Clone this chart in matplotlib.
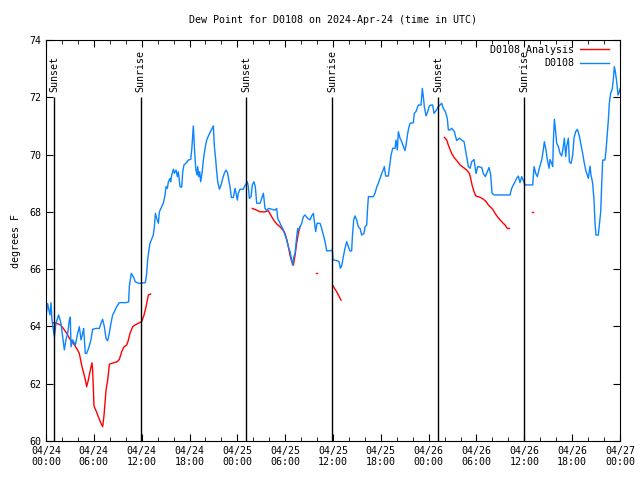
import matplotlib
matplotlib.use('Agg')
import matplotlib.pyplot as plt
from matplotlib.ticker import MultipleLocator

# observed dew point (hours since 04/24 00:00 UTC, degF)
obs_hours = [0.0, 0.2, 0.5, 0.63, 0.75, 1.05, 1.25, 1.59, 1.88, 2.3, 2.5, 2.72, 2.93, 3.05, 3.14, 3.34,
             3.68, 3.97, 4.18, 4.39, 4.6, 4.72, 4.93, 5.1, 5.35, 5.64, 5.85, 6.27, 6.69, 6.9, 7.1, 7.32,
             7.53, 7.73, 7.94, 8.15, 8.36, 8.57, 8.86, 9.2, 10.03, 10.37, 10.45, 10.7, 10.95, 11.2, 11.7,
             12.46, 12.63, 12.75, 12.88, 13.04, 13.3, 13.46, 13.59, 13.72, 13.89, 14.1, 14.22, 14.51,
             14.72, 14.93, 15.06, 15.22, 15.35, 15.56, 15.64, 15.77, 15.98, 16.1, 16.31, 16.48, 16.6,
             16.81, 17.02, 17.15, 17.31, 17.56, 17.86, 18.15, 18.28, 18.4, 18.48, 18.61, 18.78, 18.94,
             19.03, 19.15, 19.28, 19.4, 19.57, 19.74, 19.95, 20.16, 20.37, 20.57, 20.78, 20.99, 21.12,
             21.29, 21.41, 21.54, 21.75, 21.96, 22.17, 22.37, 22.58, 22.79, 22.92, 23.08, 23.25, 23.5,
             23.71, 23.84, 24.0, 24.13, 24.34, 24.76, 24.88, 25.09, 25.26, 25.38, 25.51, 25.72, 25.88,
             26.09, 26.26, 26.43, 26.85, 27.06, 27.27, 27.47, 27.68, 27.89, 28.31, 28.73, 28.94, 29.06,
             29.36, 29.77, 29.98, 30.19, 30.4, 30.61, 30.82, 30.94, 31.07, 31.24, 31.45, 31.57, 31.74,
             31.86, 32.07, 32.28, 32.49, 32.83, 33.12, 33.33, 33.54, 33.66, 33.83, 34.0, 34.37, 34.58,
             34.79, 35.0, 35.21, 35.63, 35.92, 36.0, 36.46, 36.76, 36.92, 37.09, 37.3, 37.51, 37.72,
             37.93, 38.13, 38.34, 38.43, 38.6, 38.76, 38.97, 39.18, 39.39, 39.6, 39.89, 40.02, 40.23,
             40.31, 40.44, 41.06, 41.27, 41.48, 41.69, 41.9, 42.11, 42.32, 42.44, 42.61, 42.94, 43.15,
             43.28, 43.49, 43.78, 43.91, 44.07, 44.2, 44.41, 44.62, 44.83, 45.03, 45.16, 45.37, 45.49,
             45.66, 46.08, 46.2, 46.41, 46.71, 47.04, 47.21, 47.33, 47.46, 47.67, 47.88, 48.09, 48.3,
             48.5, 48.67, 48.92, 49.21, 49.42, 49.63, 49.84, 50.09, 50.34, 50.47, 50.68, 50.89, 51.22,
             51.51, 51.85, 52.44, 52.77, 52.98, 53.19, 53.4, 53.69, 53.94, 54.15, 54.65, 54.86, 55.11,
             55.36, 55.57, 55.78, 55.95, 56.2, 58.21, 58.41, 58.62, 58.83, 59.04, 59.25, 59.46, 59.67,
             59.88, 60.09, 61.05, 61.22, 61.43, 61.63, 61.88, 62.18, 62.39, 62.51, 62.72, 62.89, 63.1,
             63.22, 63.43, 63.56, 63.64, 63.77, 63.93, 64.06, 64.27, 64.48, 64.69, 64.89, 65.02, 65.19,
             65.31, 65.52, 65.65, 65.86, 66.07, 66.23, 66.44, 66.65, 66.9, 67.07, 67.28, 67.49, 67.7,
             67.9, 68.03, 68.24, 68.36, 68.57, 68.74, 68.87, 68.99, 69.28, 69.41, 69.58, 69.7, 69.83,
             70.12, 70.25, 70.41, 70.54, 70.66, 70.83, 71.04, 71.17, 71.29, 71.42, 71.58, 71.75, 71.92,
             72.0]
obs_vals = [64.3, 64.8, 64.4, 64.83, 64.22, 63.64, 64.11, 64.4, 64.11, 63.18, 63.53, 63.76, 64.22, 64.32,
            63.29, 63.53, 63.35, 63.76, 63.99, 63.53, 63.76, 63.93, 63.06, 63.06, 63.24, 63.53, 63.9,
            63.93, 63.93, 64.11, 64.25, 63.99, 63.58, 63.5, 63.76, 64.11, 64.4, 64.51, 64.69, 64.83,
            64.83, 64.86, 65.39, 65.85, 65.74, 65.56, 65.5, 65.53, 65.85, 66.32, 66.61, 66.9, 67.08,
            67.19, 67.48, 67.95, 67.77, 67.6, 68.0, 68.18, 68.3, 68.59, 68.88, 68.82, 69.05, 69.17,
            69.05, 69.29, 69.49, 69.35, 69.46, 69.23, 69.4, 68.88, 68.86, 69.4, 69.64, 69.7, 69.81,
            69.83, 70.16, 70.68, 71.0, 70.28, 69.52, 69.29, 69.58, 69.23, 69.4, 69.05, 69.35, 69.81,
            70.22, 70.51, 70.65, 70.77, 70.88, 71.0, 70.28, 69.81, 69.4, 69.05, 68.79, 68.94, 69.17,
            69.35, 69.46, 69.35, 69.11, 68.88, 68.5, 68.5, 68.82, 68.65, 68.41, 68.65, 68.79, 68.79,
            68.88, 68.97, 69.05, 68.88, 68.47, 68.53, 68.94, 69.05, 68.86, 68.3, 68.3, 68.47, 68.65,
            68.12, 68.04, 68.12, 68.09, 68.06, 68.12, 67.77, 67.6, 67.37, 67.19, 67.02, 66.78, 66.61,
            66.32, 66.14, 66.41, 66.55, 67.13, 67.42, 67.37, 67.48, 67.6, 67.83, 67.89, 67.77, 67.72,
            67.86, 67.95, 67.66, 67.31, 67.6, 67.6, 67.42, 67.19, 66.96, 66.64, 66.64, 66.67, 66.32,
            66.3, 66.26, 66.03, 66.11, 66.44, 66.73, 66.96, 66.78, 66.63, 66.64, 67.13, 67.72, 67.86,
            67.72, 67.48, 67.42, 67.19, 67.25, 67.48, 67.54, 68.0, 68.53, 68.53, 68.65, 68.86, 69.0,
            69.17, 69.34, 69.48, 69.58, 69.25, 69.25, 69.69, 69.98, 70.22, 70.22, 70.51, 70.16, 70.8,
            70.57, 70.45, 70.28, 70.14, 70.33, 70.74, 70.92, 71.09, 71.11, 71.44, 71.5, 71.73, 71.73,
            72.31, 72.02, 71.67, 71.35, 71.5, 71.7, 71.73, 71.73, 71.44, 71.53, 71.67, 71.73, 71.79,
            71.61, 71.5, 71.26, 70.86, 70.86, 70.92, 70.8, 70.49, 70.57, 70.45, 69.93, 69.58, 69.52,
            69.75, 69.83, 69.34, 69.58, 69.55, 69.34, 69.23, 69.4, 69.55, 69.29, 68.65, 68.59, 68.59,
            68.82, 68.94, 69.05, 69.17, 69.25, 69.02, 69.23, 69.09, 68.94, 68.94, 69.58, 69.34, 69.23,
            69.52, 69.81, 70.18, 70.45, 70.16, 69.81, 69.52, 69.83, 69.69, 69.58, 70.45, 71.23, 70.8,
            70.39, 70.28, 70.04, 69.95, 70.28, 70.57, 69.93, 70.28, 70.57, 69.75, 69.69, 69.99, 70.57,
            70.8, 70.88, 70.65, 70.39, 70.1, 69.75, 69.46, 69.29, 69.17, 69.6, 69.29, 69.0, 68.41,
            67.6, 67.19, 67.19, 67.54, 68.0, 68.94, 69.81, 69.81, 70.16, 70.74, 71.21, 71.79, 72.14,
            72.31, 72.66, 73.07, 72.89, 72.55, 72.08, 72.2, 72.3]

# analysis series, broken into pieces where data is missing
ana_hours = [
    [0.84, 1.34, 1.84, 2.17, 2.6, 3.01, 3.43, 3.85, 4.18, 4.47, 4.68, 4.89, 5.1, 5.31, 5.52, 5.77,
     5.85, 6.02, 6.27, 6.56, 6.86, 7.11, 7.28, 7.53, 7.74, 7.95, 8.45, 8.95, 9.2, 9.5, 9.79, 10.12,
     10.33, 10.54, 10.87, 11.16, 11.58, 12.0, 12.3, 12.55, 12.84, 13.13],
    [25.88, 26.43, 26.85, 27.47, 27.89, 28.31, 28.6, 28.94, 29.35, 29.69, 29.98, 30.27, 30.44,
     30.61, 30.82, 31.03, 31.24, 31.44, 31.65, 31.86],
    [33.85, 34.05],
    [35.96, 36.46, 37.0],
    [49.97, 50.26, 50.47, 50.68, 50.89, 51.18, 51.52, 51.93, 52.35, 52.77, 53.11, 53.27, 53.44,
     53.69, 53.94, 54.44, 54.86, 55.2, 55.49, 55.78, 56.03, 56.33, 56.62, 56.95, 57.29, 57.58,
     57.87, 58.12],
    [60.98, 61.12],
]
ana_vals = [
    [64.13, 64.11, 64.05, 63.93, 63.76, 63.55, 63.41, 63.23, 63.06, 62.65, 62.42, 62.19, 61.9,
     62.13, 62.42, 62.73, 62.48, 61.22, 61.06, 60.85, 60.64, 60.5, 60.91, 61.78, 62.13, 62.68,
     62.73, 62.77, 62.85, 63.12, 63.29, 63.35, 63.52, 63.76, 63.99, 64.05, 64.11, 64.17, 64.4,
     64.69, 65.1, 65.13],
    [68.12, 68.06, 68.0, 68.0, 68.04, 67.83, 67.69, 67.58, 67.48, 67.37, 67.25, 66.96, 66.73,
     66.49, 66.26, 66.14, 66.49, 66.9, 67.25, 67.48],
    [65.88, 65.88],
    [65.43, 65.21, 64.92],
    [70.6, 70.51, 70.33, 70.18, 70.04, 69.9, 69.79, 69.64, 69.55, 69.46, 69.34, 69.17, 68.94,
     68.7, 68.55, 68.51, 68.44, 68.36, 68.24, 68.16, 68.09, 67.95, 67.83, 67.72, 67.62, 67.54,
     67.42, 67.42],
    [68.0, 68.0],
]

sunset_hours = [1.0, 25.1, 49.2]
sunrise_hours = [11.9, 35.9, 60.0]

tick_hours = list(range(0, 73, 6))
tick_labels = ['04/24\n00:00', '04/24\n06:00', '04/24\n12:00', '04/24\n18:00',
               '04/25\n00:00', '04/25\n06:00', '04/25\n12:00', '04/25\n18:00',
               '04/26\n00:00', '04/26\n06:00', '04/26\n12:00', '04/26\n18:00',
               '04/27\n00:00']

plt.rcParams['font.family'] = 'DejaVu Sans Mono'
plt.rcParams['font.size'] = 7.2

fig = plt.figure(figsize=(6.4, 4.8), dpi=100)
ax = fig.add_axes([46/640, 39/480, 574/640, 401/480])

for i, (h, v) in enumerate(zip(ana_hours, ana_vals)):
    ax.plot(h, v, color='red', lw=1, label='D0108 Analysis' if i == 0 else None)
ax.plot(obs_hours, obs_vals, color='#0a84ff', lw=1, label='D0108')

for h in sunset_hours:
    ax.vlines(h, 60, 72, color='black', lw=1)
    ax.text(h, 72.2, 'Sunset', rotation=90, ha='center', va='bottom')
for h in sunrise_hours:
    ax.vlines(h, 60, 72, color='black', lw=1)
    ax.text(h, 72.2, 'Sunrise', rotation=90, ha='center', va='bottom')

ax.set_xlim(0, 72)
ax.set_ylim(60, 74)
ax.set_xticks(tick_hours)
ax.set_xticklabels(tick_labels)
ax.xaxis.set_minor_locator(MultipleLocator(2))
ax.set_yticks(range(60, 75, 2))
ax.tick_params(which='both', direction='in', top=True, right=True)
ax.tick_params(which='major', length=5)
ax.tick_params(which='minor', length=3)
ax.set_ylabel('degrees F', labelpad=6)
ax.set_title('Dew Point for D0108 on 2024-Apr-24 (time in UTC)', fontsize=7.2, pad=12)

ax.legend(loc='upper right', frameon=False, markerfirst=False, handlelength=2.9,
          borderaxespad=0.1, labelspacing=0.35, handletextpad=0.6,
          bbox_to_anchor=(0.99, 1.0))

fig.savefig('out.png', dpi=100)
